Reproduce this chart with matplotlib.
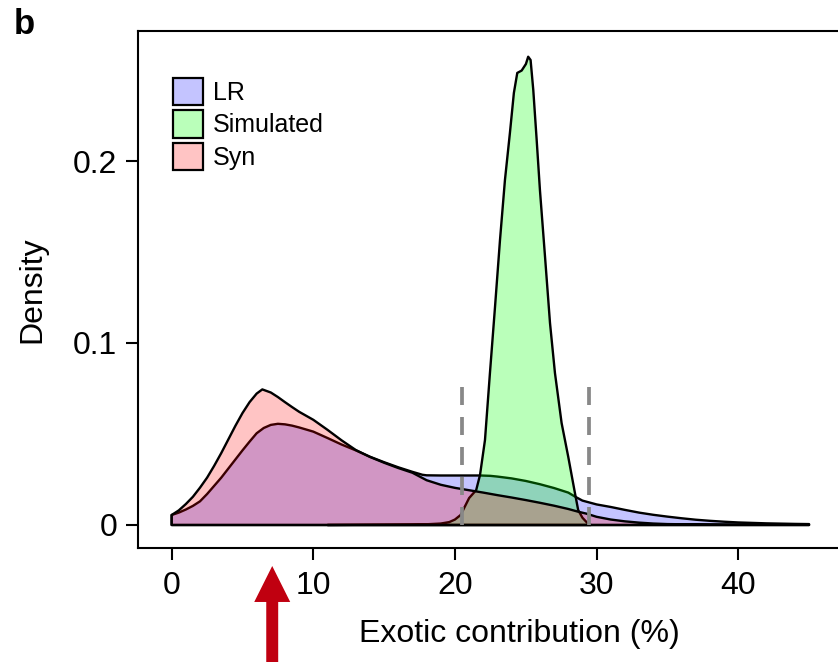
import matplotlib
matplotlib.use('Agg')
import matplotlib.pyplot as plt
from matplotlib.transforms import IdentityTransform
import numpy as np

plt.rcParams['font.family'] = ['Liberation Sans', 'DejaVu Sans']

# density curves (exotic contribution in %)
lr_x = [0, 0.5, 1, 1.5, 2, 2.5, 3, 3.5, 4, 4.5, 5, 5.5, 6, 6.5, 7, 7.5, 8, 8.5, 9,
        10, 11, 12, 13, 14, 15, 16, 17, 17.7, 18, 19, 20, 21, 21.8, 22.5, 23, 24,
        25, 26, 27, 28, 28.5, 29, 30, 31, 32, 33, 34, 35, 36, 37, 38, 39, 40, 42, 44, 45]
lr_y = [0.0055, 0.0068, 0.0085, 0.0105, 0.013, 0.017, 0.0215, 0.026, 0.031, 0.036,
        0.041, 0.0458, 0.0504, 0.0533, 0.055, 0.0556, 0.0553, 0.0546, 0.0536,
        0.0513, 0.0478, 0.0442, 0.041, 0.0375, 0.0345, 0.0317, 0.0292, 0.0276,
        0.0273, 0.0272, 0.0272, 0.0272, 0.0272, 0.027, 0.0266, 0.0256, 0.0242,
        0.0224, 0.0203, 0.0178, 0.0155, 0.0134, 0.0113, 0.0099, 0.0083, 0.0068,
        0.0056, 0.0046, 0.0037, 0.0029, 0.0023, 0.0018, 0.0014, 0.0009, 0.0006, 0.0005]

sim_x = [11, 13, 15, 17, 18, 19, 19.6, 20, 20.4, 21.0, 21.5, 21.77, 22.12, 22.47,
         22.83, 23.18, 23.53, 23.88, 24.16, 24.4, 24.71, 25.01, 25.17, 25.34, 25.53,
         25.77, 26.0, 26.36, 26.71, 27.06, 27.53, 28.0, 28.47, 28.7, 29.0, 29.3, 29.6]
sim_y = [0.0, 0.0001, 0.0002, 0.0003, 0.0004, 0.0008, 0.0016, 0.003, 0.0055, 0.0148,
         0.0192, 0.0275, 0.0467, 0.0835, 0.120, 0.1566, 0.1896, 0.2154, 0.2374,
         0.2484, 0.2497, 0.2533, 0.2573, 0.2555, 0.239, 0.2115, 0.184, 0.1473,
         0.111, 0.0835, 0.056, 0.0374, 0.0176, 0.0082, 0.004, 0.0015, 0.0]

syn_x = [0, 0.5, 1, 1.5, 2, 2.5, 3, 3.5, 4, 4.5, 5, 5.5, 6, 6.4, 7, 7.5, 8, 8.5, 9,
         10, 11, 12, 13, 14, 15, 16, 17, 18, 19, 20, 21, 22, 23, 24, 25, 26, 27, 28,
         28.7, 29.3, 30, 31, 32, 33, 34, 35, 36, 38, 40, 42, 45]
syn_y = [0.0055, 0.008, 0.0115, 0.0155, 0.0205, 0.026, 0.0325, 0.0395, 0.047, 0.0545,
         0.0615, 0.0675, 0.0722, 0.0745, 0.0728, 0.0703, 0.0675, 0.0648, 0.0622,
         0.0578, 0.0523, 0.0465, 0.0412, 0.0374, 0.0342, 0.0313, 0.0287, 0.0246,
         0.0221, 0.0204, 0.0191, 0.0178, 0.0164, 0.0151, 0.0137, 0.0122, 0.0106,
         0.0088, 0.0073, 0.0062, 0.0045, 0.003, 0.002, 0.0013, 0.0008, 0.0005,
         0.0004, 0.0003, 0.0002, 0.0002, 0.0001]

# 95% interval of the simulated values
sim_interval = [20.52, 29.44]
interval_top = 0.077

# observed value marked under the axis
arrow_x = 7.1

series = [
    ('LR', lr_x, lr_y, (0, 0, 1, 0.23)),
    ('Simulated', sim_x, sim_y, (0, 1, 0, 0.27)),
    ('Syn', syn_x, syn_y, (1, 0, 0, 0.23)),
]

fig = plt.figure(figsize=(8.38, 6.65), dpi=100)
ax = fig.add_axes([138 / 838, 117 / 665, 763 / 838, 517 / 665])

for name, xs, ys, col in series:
    xs = np.asarray(xs)
    ys = np.asarray(ys)
    px = np.r_[xs, xs[-1], xs[0]]
    py = np.r_[ys, 0, 0]
    ax.fill(px, py, facecolor=col, edgecolor='black', linewidth=1.7,
            label=name, joinstyle='round')

for xv in sim_interval:
    ax.plot([xv, xv], [0, interval_top], color='#888888', linewidth=2.7,
            dashes=(4.8, 3.2), dash_capstyle='butt', zorder=5)

ax.set_xlim(-2.376, 51.49)
ax.set_ylim(-0.01264, 0.27143)
ax.set_xticks([0, 10, 20, 30, 40])
ax.set_yticks([0, 0.1, 0.2])
ax.set_yticklabels(['0', '0.1', '0.2'])

for s in ax.spines.values():
    s.set_linewidth(1.5)
ax.tick_params(direction='out', length=8.6, width=1.5, labelsize=23, pad=6.5)
ax.tick_params(axis='x', pad=8.0)

ax.set_xlabel('Exotic contribution (%)', fontsize=23, labelpad=13)
ax.set_ylabel('Density', fontsize=23, labelpad=18)

leg = ax.legend(loc='upper left', bbox_to_anchor=(173, 665 - 78),
                bbox_transform=IdentityTransform(), frameon=False, fontsize=18,
                handlelength=1.18, handleheight=1.3, handletextpad=0.42,
                labelspacing=0.2, borderpad=0, borderaxespad=0)
for h in leg.legend_handles:
    h.set_linewidth(1.6)

ax.annotate('', xy=(arrow_x, 99), xytext=(arrow_x, 3),
            xycoords=('data', 'figure pixels'), textcoords=('data', 'figure pixels'),
            arrowprops=dict(arrowstyle='simple,head_length=2.59,head_width=2.59,tail_width=0.86',
                            mutation_scale=10, facecolor='#c00010', edgecolor='none',
                            shrinkA=0, shrinkB=0),
            annotation_clip=False)

fig.text(14 / 838, 1 - 8 / 665, 'b', fontsize=25, fontweight='bold', va='top', ha='left')

fig.savefig('out.png', dpi=100)
